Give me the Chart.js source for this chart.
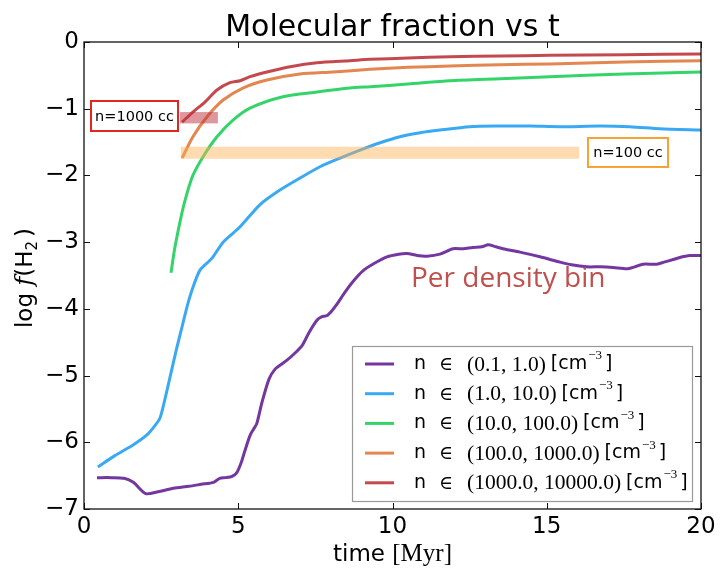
<!DOCTYPE html>
<html>
<head>
<meta charset="utf-8">
<script src="https://cdn.jsdelivr.net/npm/chart.js@4.4.1/dist/chart.umd.min.js"></script>
<style>
html,body{margin:0;padding:0;background:#fff;}
canvas{display:block;}
</style>
</head>
<body>
<canvas id="c" width="722" height="573"></canvas>
<script>
// ---- data ----
const seriesLabels = ["(0.1, 1.0)", "(1.0, 10.0)", "(10.0, 100.0)", "(100.0, 1000.0)", "(1000.0, 10000.0)"];
const seriesColors = ["#7437a0", "#3aa9f4", "#35d46a", "#e3864f", "#c4494f"];

const tPurple = [0.42,0.9,1.3,1.6,2.0,2.4,2.9,3.4,3.8,4.2,4.4,4.6,4.8,4.96,5.1,5.2,5.38,5.5,5.6,5.77,6.0,6.2,6.4,6.6,6.8,7.07,7.3,7.55,7.7,7.88,8.05,8.2,8.46,8.7,9.04,9.4,9.82,10.2,10.47,10.8,11.12,11.54,11.96,12.3,12.6,12.9,13.1,13.35,13.58,14.13,14.78,15.43,15.8,16.3,16.73,17.15,17.6,17.85,18.12,18.57,18.8,19.1,19.4,19.64,20.0];
const fPurple = [-6.53,-6.53,-6.54,-6.6,-6.77,-6.74,-6.69,-6.66,-6.63,-6.6,-6.54,-6.53,-6.51,-6.45,-6.3,-6.15,-5.9,-5.8,-5.72,-5.4,-5.05,-4.9,-4.83,-4.76,-4.68,-4.55,-4.35,-4.17,-4.12,-4.1,-4.02,-3.93,-3.75,-3.6,-3.43,-3.32,-3.22,-3.18,-3.17,-3.2,-3.21,-3.18,-3.1,-3.1,-3.08,-3.07,-3.04,-3.07,-3.1,-3.15,-3.22,-3.3,-3.34,-3.37,-3.37,-3.38,-3.4,-3.37,-3.33,-3.33,-3.3,-3.26,-3.22,-3.2,-3.2];

const tBlue = [0.45,1.0,1.59,2.04,2.3,2.46,2.6,2.79,3.0,3.21,3.35,3.5,3.76,4.15,4.51,5.06,5.7,6.35,7.0,7.65,8.3,8.95,9.6,10.24,10.9,11.54,12.5,13.48,14.46,15.43,16.73,17.7,18.67,20.0];
const fBlue = [-6.37,-6.2,-6.04,-5.89,-5.75,-5.64,-5.4,-5.02,-4.6,-4.21,-3.95,-3.72,-3.42,-3.24,-3.0,-2.77,-2.44,-2.22,-2.04,-1.87,-1.74,-1.62,-1.51,-1.42,-1.36,-1.32,-1.27,-1.26,-1.26,-1.27,-1.26,-1.27,-1.3,-1.32];

const tGreen = [2.82,2.95,3.18,3.35,3.53,3.86,4.31,4.83,5.38,6.45,7.55,8.62,9.27,10.5,11.86,13.5,15.1,17.5,20.0];
const fGreen = [-3.46,-3.07,-2.55,-2.25,-2.0,-1.72,-1.42,-1.17,-0.99,-0.82,-0.75,-0.69,-0.67,-0.63,-0.58,-0.55,-0.52,-0.48,-0.45];

const tOrange = [3.18,3.53,3.99,4.51,5.15,5.93,7.0,8.07,9.27,10.5,11.86,13.5,15.1,17.5,20.0];
const fOrange = [-1.74,-1.42,-1.12,-0.87,-0.69,-0.57,-0.48,-0.45,-0.41,-0.38,-0.36,-0.34,-0.33,-0.3,-0.28];

const tRed = [3.18,3.53,3.92,4.31,4.73,5.06,5.38,5.93,6.68,7.55,8.62,9.27,10.5,11.86,13.5,15.1,17.5,20.0];
const fRed = [-1.2,-1.05,-0.9,-0.72,-0.61,-0.58,-0.52,-0.45,-0.37,-0.31,-0.28,-0.26,-0.24,-0.22,-0.21,-0.2,-0.19,-0.18];

const xTicks = [0,5,10,15,20];
const yTicks = [-7,-6,-5,-4,-3,-2,-1,0];

// annotation bands (data coordinates): [x0, x1, y0, y1]
const band1000 = [3.11, 4.34, -1.05, -1.22];
const band100 = [3.14, 16.05, -1.57, -1.75];
const label1000 = "n=1000 cc";
const label100 = "n=100 cc";
const noteText = "Per density bin";
const titleText = "Molecular fraction vs t";

const allT = [tPurple, tBlue, tGreen, tOrange, tRed];
const allF = [fPurple, fBlue, fGreen, fOrange, fRed];

const datasets = allT.map((ts, k) => ({
  label: seriesLabels[k],
  data: ts.map((t, i) => ({x: t, y: allF[k][i]})),
  borderColor: seriesColors[k],
  backgroundColor: seriesColors[k],
  borderWidth: 3,
  pointRadius: 0,
  tension: 0.25,
  fill: false
}));

const minus = v => (v < 0 ? "\u2212" + Math.abs(v) : String(v));

const decor = {
  id: "decor",
  afterDatasetsDraw(chart) {
    const ctx = chart.ctx, xs = chart.scales.x, ys = chart.scales.y;
    const band = (b, col) => {
      const x0 = xs.getPixelForValue(b[0]), x1 = xs.getPixelForValue(b[1]);
      const y0 = ys.getPixelForValue(b[2]), y1 = ys.getPixelForValue(b[3]);
      ctx.save(); ctx.fillStyle = col;
      ctx.fillRect(x0, Math.min(y0, y1), x1 - x0, Math.abs(y1 - y0));
      ctx.restore();
    };
    band(band100, "rgba(252,176,80,0.45)");
    band(band1000, "rgba(190,50,60,0.5)");
  },
  afterDraw(chart) {
    const ctx = chart.ctx, xs = chart.scales.x, ys = chart.scales.y, a = chart.chartArea;
    ctx.save();
    // spines
    ctx.strokeStyle = "#111"; ctx.lineWidth = 1.3;
    ctx.strokeRect(a.left, a.top, a.right - a.left, a.bottom - a.top);
    // inward ticks on all four sides
    ctx.lineWidth = 1;
    ctx.beginPath();
    xTicks.forEach(v => {
      const p = Math.round(xs.getPixelForValue(v)) + 0.5;
      ctx.moveTo(p, a.bottom); ctx.lineTo(p, a.bottom - 6);
      ctx.moveTo(p, a.top); ctx.lineTo(p, a.top + 6);
    });
    yTicks.forEach(v => {
      const p = Math.round(ys.getPixelForValue(v)) + 0.5;
      ctx.moveTo(a.left, p); ctx.lineTo(a.left + 6, p);
      ctx.moveTo(a.right, p); ctx.lineTo(a.right - 6, p);
    });
    ctx.stroke();

    // title
    ctx.fillStyle = "#000";
    ctx.font = "30px 'DejaVu Sans'";
    ctx.textAlign = "center"; ctx.textBaseline = "alphabetic";
    ctx.fillText(titleText, (a.left + a.right) / 2, 36);

    // x axis label: "time [Myr]"
    ctx.textAlign = "left";
    const p1 = "time ";
    ctx.font = "23px 'DejaVu Sans'";
    const w1 = ctx.measureText(p1).width;
    ctx.font = "25px 'Liberation Serif'";
    const p2 = "[Myr]";
    const w2 = ctx.measureText(p2).width;
    let sx = (a.left + a.right) / 2 - (w1 + w2) / 2;
    ctx.font = "23px 'DejaVu Sans'";
    ctx.fillText(p1, sx, 561);
    ctx.font = "25px 'Liberation Serif'";
    ctx.fillText(p2, sx + w1, 561);

    // y axis label: log f(H2)
    ctx.save();
    ctx.translate(32, 278);
    ctx.rotate(-Math.PI / 2);
    const parts = [
      ["log ", "23px 'DejaVu Sans'", 0],
      ["f", "italic 24px 'DejaVu Serif'", 0],
      ["(H", "23px 'DejaVu Sans'", 0],
      ["2", "15px 'DejaVu Sans'", 5],
      [")", "23px 'DejaVu Sans'", 0]
    ];
    let tw = 0;
    parts.forEach(p => { ctx.font = p[1]; tw += ctx.measureText(p[0]).width + (p[0] === "2" ? 4 : 0); });
    let cx = -tw / 2;
    parts.forEach(p => {
      ctx.font = p[1];
      ctx.fillText(p[0], cx, p[2]);
      cx += ctx.measureText(p[0]).width + (p[0] === "2" ? 4 : 0);
    });
    ctx.restore();

    // "Per density bin"
    ctx.fillStyle = "#c0504d";
    ctx.font = "28px 'Open Sans'";
    ctx.textAlign = "left"; ctx.textBaseline = "alphabetic";
    ctx.fillText(noteText, 411, 287);

    // labelled boxes
    const box = (x, y, w, h, col, txt) => {
      ctx.fillStyle = "#fff"; ctx.fillRect(x, y, w, h);
      ctx.strokeStyle = col; ctx.lineWidth = 2; ctx.strokeRect(x, y, w, h);
      ctx.fillStyle = "#000"; ctx.font = "14.5px 'DejaVu Sans'";
      ctx.textAlign = "center"; ctx.textBaseline = "middle";
      ctx.fillText(txt, x + w / 2, y + h / 2 + 1);
    };
    box(91, 101, 87, 30, "#e52520", label1000);
    box(588, 138, 80, 29, "#f7a234", label100);

    // legend
    const lx = 352, ly = 346, lw = 340, lh = 155;
    ctx.fillStyle = "#fff"; ctx.fillRect(lx, ly, lw, lh);
    ctx.strokeStyle = "#999"; ctx.lineWidth = 1.2; ctx.strokeRect(lx + 0.5, ly + 0.5, lw, lh);
    ctx.textAlign = "left"; ctx.textBaseline = "middle";
    chart.data.datasets.forEach((ds, i) => {
      const y = 364 + i * 29.7;
      ctx.strokeStyle = ds.borderColor; ctx.lineWidth = 3;
      ctx.beginPath(); ctx.moveTo(365, y); ctx.lineTo(394, y); ctx.stroke();
      ctx.fillStyle = "#000";
      ctx.font = "19px 'DejaVu Sans'"; ctx.fillText("n", 414, y);
      ctx.font = "19px 'DejaVu Serif'"; ctx.fillText("\u2208", 439, y + 1);
      ctx.font = "21.5px 'Liberation Serif'";
      ctx.fillText(ds.label, 467, y + 1);
      let x = 467 + ctx.measureText(ds.label).width + 5;
      ctx.font = "19px 'DejaVu Sans'"; ctx.fillText("[cm", x, y);
      x += ctx.measureText("[cm").width + 1;
      ctx.font = "13px 'Liberation Serif'"; ctx.fillText("\u22123", x, y - 8);
      x += ctx.measureText("\u22123").width + 3;
      ctx.font = "19px 'DejaVu Sans'"; ctx.fillText("]", x, y);
    });
    ctx.restore();
  }
};

new Chart(document.getElementById("c"), {
  type: "line",
  data: { datasets },
  plugins: [decor],
  options: {
    responsive: false,
    animation: false,
    layout: { padding: { left: 0, top: 42, right: 21, bottom: 0 } },
    plugins: { legend: { display: false }, title: { display: false }, tooltip: { enabled: false } },
    scales: {
      x: {
        type: "linear", min: 0, max: 20,
        afterBuildTicks: s => { s.ticks = xTicks.map(v => ({value: v})); },
        afterFit: s => { s.height = 64; },
        grid: { display: false, drawTicks: false },
        border: { display: false },
        ticks: { color: "#000", padding: 4, font: { family: "DejaVu Sans", size: 23 }, maxRotation: 0, callback: v => String(v) }
      },
      y: {
        type: "linear", min: -7, max: 0,
        afterBuildTicks: s => { s.ticks = yTicks.map(v => ({value: v})); },
        afterFit: s => { s.width = 84; },
        grid: { display: false, drawTicks: false },
        border: { display: false },
        ticks: { color: "#000", padding: 5, font: { family: "DejaVu Sans", size: 23 }, callback: v => minus(v) }
      }
    }
  }
});
</script>
</body>
</html>
